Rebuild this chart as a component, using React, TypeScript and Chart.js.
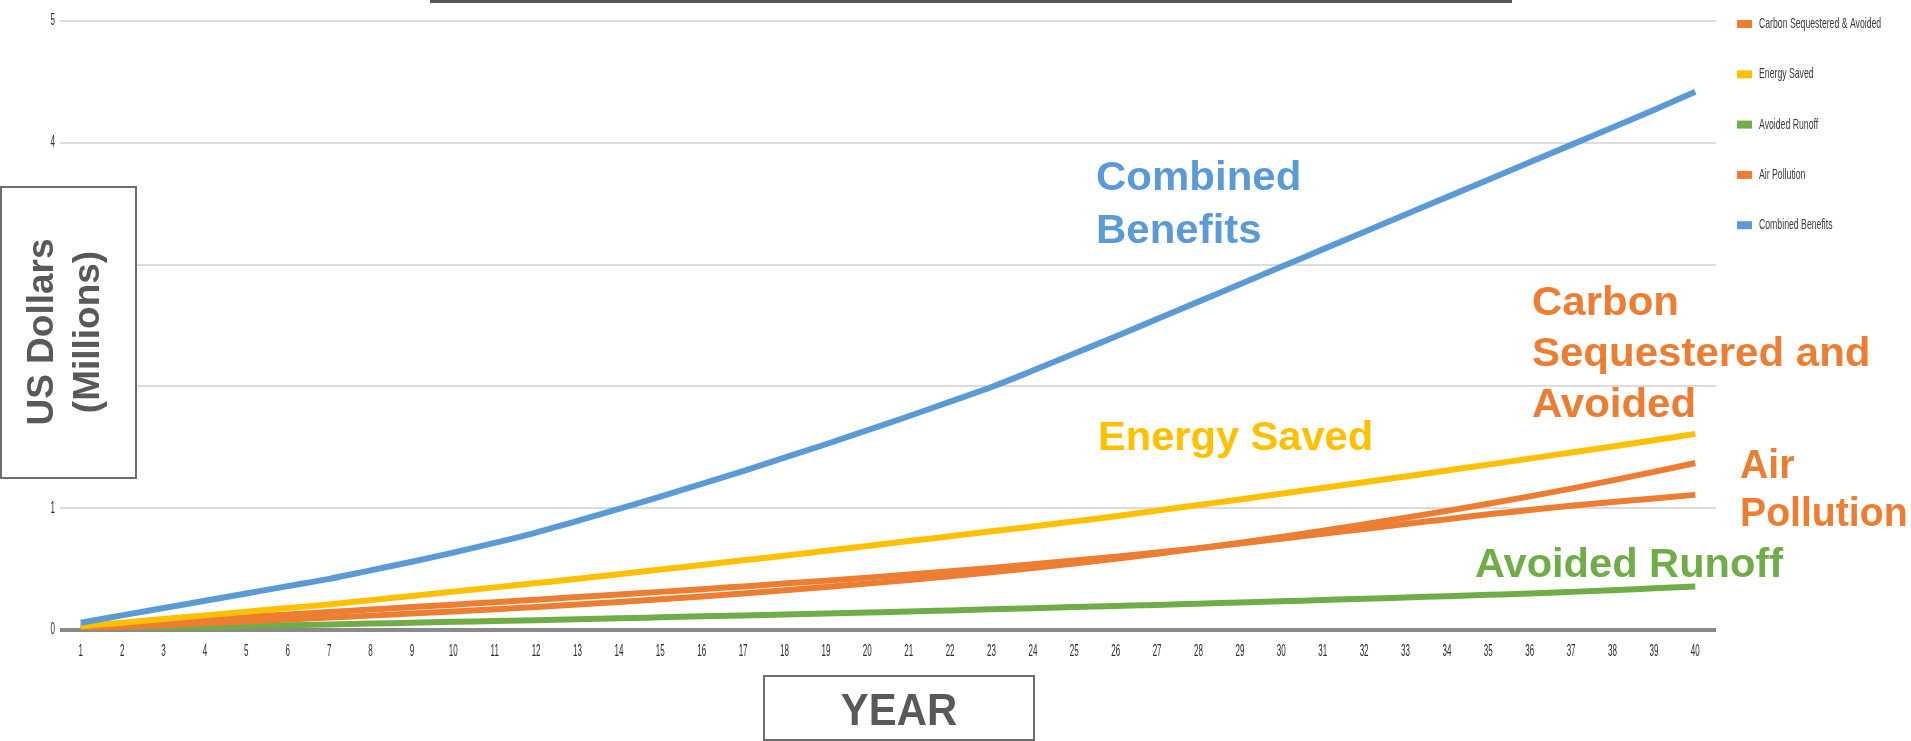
import React, { useEffect, useRef } from 'react';
import { Chart, registerables } from 'chart.js';

Chart.register(...registerables);

const years = ['1','2','3','4','5','6','7','8','9','10','11','12','13','14','15','16','17','18','19','20','21','22','23','24','25','26','27','28','29','30','31','32','33','34','35','36','37','38','39','40'];

const combinedBenefits = [0.06,0.12,0.18,0.24,0.30,0.36,0.42,0.49,0.56,0.635,0.715,0.80,0.895,0.995,1.095,1.20,1.305,1.415,1.525,1.64,1.755,1.875,1.995,2.13,2.27,2.41,2.553,2.696,2.839,2.982,3.125,3.268,3.411,3.554,3.697,3.84,3.983,4.126,4.269,4.42];
const energySaved = [0.03,0.06,0.09,0.12,0.15,0.18,0.21,0.245,0.28,0.315,0.35,0.385,0.42,0.458,0.496,0.534,0.572,0.61,0.65,0.69,0.73,0.77,0.81,0.85,0.892,0.934,0.98,1.026,1.072,1.119,1.166,1.213,1.261,1.309,1.358,1.407,1.457,1.507,1.558,1.61];
const carbonSequestered = [0.01,0.025,0.04,0.055,0.07,0.086,0.102,0.118,0.135,0.152,0.17,0.189,0.209,0.23,0.252,0.275,0.3,0.326,0.353,0.381,0.41,0.441,0.474,0.509,0.546,0.585,0.626,0.67,0.716,0.764,0.815,0.868,0.922,0.978,1.036,1.097,1.161,1.228,1.298,1.371];
const airPollution = [0.025,0.046,0.067,0.088,0.108,0.128,0.148,0.168,0.188,0.208,0.228,0.249,0.27,0.291,0.313,0.335,0.358,0.381,0.405,0.43,0.455,0.482,0.51,0.54,0.57,0.602,0.636,0.672,0.71,0.75,0.79,0.83,0.87,0.91,0.95,0.985,1.02,1.05,1.08,1.11];
const avoidedRunoff = [0.005,0.012,0.018,0.025,0.032,0.039,0.046,0.053,0.06,0.067,0.074,0.081,0.089,0.096,0.104,0.112,0.12,0.128,0.136,0.144,0.152,0.161,0.17,0.179,0.188,0.197,0.206,0.216,0.226,0.236,0.246,0.256,0.267,0.278,0.289,0.3,0.313,0.327,0.342,0.357];

const yTickValues = [0, 1, 2, 3, 4, 5];
const legendLabels = ['Carbon Sequestered & Avoided', 'Energy Saved', 'Avoided Runoff', 'Air Pollution', 'Combined Benefits'];

const BLUE = '#5B9BD5';
const ORANGE = '#ED7D31';
const YELLOW = '#FFC000';
const GREEN = '#70AD47';

const legendColors: Record<string, string> = {
  'Carbon Sequestered & Avoided': ORANGE,
  'Energy Saved': YELLOW,
  'Avoided Runoff': GREEN,
  'Air Pollution': ORANGE,
  'Combined Benefits': BLUE,
};

const annotations = [
  { lines: ['Combined', 'Benefits'], x: 1096, y: 190, lh: 53, color: BLUE, sx: 1.05 },
  { lines: ['Carbon', 'Sequestered and', 'Avoided'], x: 1532, y: 315, lh: 51, color: ORANGE, sx: 1.05 },
  { lines: ['Energy Saved'], x: 1098, y: 450, lh: 50, color: YELLOW, sx: 1.04 },
  { lines: ['Air', 'Pollution'], x: 1740, y: 478, lh: 48, color: ORANGE, sx: 0.98 },
  { lines: ['Avoided Runoff'], x: 1475, y: 577, lh: 50, color: GREEN, sx: 1.04 },
];

function txt(ctx: CanvasRenderingContext2D, text: string, x: number, y: number, font: string, color: string, sx: number, align: CanvasTextAlign, baseline: CanvasTextBaseline) {
  ctx.save();
  ctx.font = font;
  ctx.fillStyle = color;
  ctx.textAlign = align;
  ctx.textBaseline = baseline;
  ctx.translate(x, y);
  ctx.scale(sx, 1);
  ctx.fillText(text, 0, 0);
  ctx.restore();
}

const decorPlugin = {
  id: 'decor',
  afterDraw(chart: any) {
    const ctx: CanvasRenderingContext2D = chart.ctx;
    const xs = chart.scales.x;
    const ys = chart.scales.y;

    years.forEach((lab, i) => {
      txt(ctx, lab, xs.getPixelForValue(i), 652, '16px "Liberation Sans"', '#2b2b2b', 0.5, 'center', 'middle');
    });
    yTickValues.forEach((v) => {
      txt(ctx, String(v), 55, ys.getPixelForValue(v), '16px "Liberation Sans"', '#2b2b2b', 0.5, 'right', 'middle');
    });

    legendLabels.forEach((lab, i) => {
      const y = 24 + i * 50.3;
      ctx.save();
      ctx.fillStyle = legendColors[lab];
      ctx.fillRect(1737, y - 4, 15, 8);
      ctx.restore();
      txt(ctx, lab, 1759, y, '15px "Liberation Sans"', '#3a3a3a', 0.58, 'left', 'middle');
    });

    annotations.forEach((a) => {
      a.lines.forEach((line, j) => {
        txt(ctx, line, a.x, a.y + j * a.lh, 'bold 40px "Liberation Sans"', a.color, a.sx, 'left', 'alphabetic');
      });
    });

    ctx.save();
    ctx.fillStyle = '#555555';
    ctx.fillRect(430, 0, 1082, 3);
    ctx.restore();

    ctx.save();
    ctx.fillStyle = '#ffffff';
    ctx.fillRect(1, 187, 135, 291);
    ctx.strokeStyle = '#6e6e6e';
    ctx.lineWidth = 2;
    ctx.strokeRect(1, 187, 135, 291);
    ctx.restore();
    [['US Dollars', 53], ['(Millions)', 99]].forEach(([t, x]) => {
      ctx.save();
      ctx.font = 'bold 37px "Liberation Sans"';
      ctx.fillStyle = '#595959';
      ctx.textAlign = 'center';
      ctx.textBaseline = 'alphabetic';
      ctx.translate(x as number, 332);
      ctx.rotate(-Math.PI / 2);
      ctx.fillText(t as string, 0, 0);
      ctx.restore();
    });

    ctx.save();
    ctx.fillStyle = '#ffffff';
    ctx.fillRect(764, 676, 270, 64);
    ctx.strokeStyle = '#6e6e6e';
    ctx.lineWidth = 2;
    ctx.strokeRect(764, 676, 270, 64);
    ctx.restore();
    txt(ctx, 'YEAR', 899, 725, 'bold 45px "Liberation Sans"', '#595959', 0.93, 'center', 'alphabetic');
  },
};

export default function App() {
  const ref = useRef<HTMLCanvasElement | null>(null);

  useEffect(() => {
    document.body.style.margin = '0';
    const canvas = ref.current;
    if (!canvas) return;
    const ds = (label: string, data: number[], color: string) => ({
      label,
      data,
      borderColor: color,
      backgroundColor: color,
      borderWidth: 6,
      pointRadius: 0,
      pointHoverRadius: 0,
      cubicInterpolationMode: 'monotone' as const,
      fill: false,
    });
    const chart = new Chart(canvas, {
      type: 'line',
      data: {
        labels: years,
        datasets: [
          ds('Combined Benefits', combinedBenefits, BLUE),
          ds('Energy Saved', energySaved, YELLOW),
          ds('Carbon Sequestered & Avoided', carbonSequestered, ORANGE),
          ds('Air Pollution', airPollution, ORANGE),
          ds('Avoided Runoff', avoidedRunoff, GREEN),
        ],
      },
      options: {
        animation: false,
        responsive: false,
        devicePixelRatio: 1,
        layout: { padding: { left: 60, right: 195, top: 21, bottom: 111 } },
        plugins: { legend: { display: false }, tooltip: { enabled: false } },
        scales: {
          x: {
            type: 'category',
            offset: true,
            grid: { display: false, drawTicks: false },
            border: { display: false },
            ticks: { display: false },
            afterFit: (s: any) => { s.height = 0; },
          },
          y: {
            min: 0,
            max: 5,
            ticks: { display: false, stepSize: 1 },
            grid: {
              drawTicks: false,
              color: (c: any) => (c.tick && c.tick.value === 0 ? '#8a8a8a' : '#dcdcdc'),
              lineWidth: (c: any) => (c.tick && c.tick.value === 0 ? 4 : 2),
            },
            border: { display: false },
            afterFit: (s: any) => { s.width = 0; },
          },
        },
      },
      plugins: [decorPlugin],
    });
    return () => chart.destroy();
  }, []);

  return (
    <div style={{ width: 1911, height: 741, position: 'relative', background: '#ffffff' }}>
      <canvas ref={ref} width={1911} height={741} style={{ display: 'block' }} />
    </div>
  );
}
